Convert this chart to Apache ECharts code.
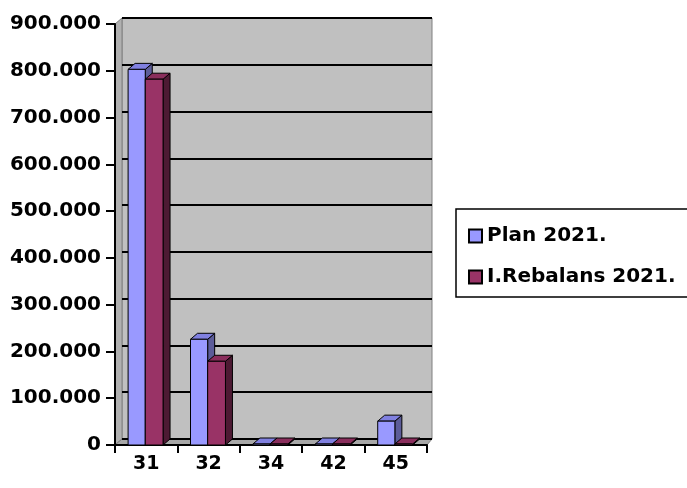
<!DOCTYPE html>
<html><head><meta charset="utf-8">
<script src="https://cdn.jsdelivr.net/npm/echarts@6/dist/echarts.min.js"></script>
<style>html,body{margin:0;padding:0;background:#fff}#c{width:687px;height:488px}</style>
</head><body><div id="c"></div>
<script>
const categories = ['31', '32', '34', '42', '45'];
const seriesNames = ['Plan 2021.', 'I.Rebalans 2021.'];
const plan2021 = [803000, 226000, 1500, 1000, 51000];
const rebalans2021 = [782000, 179000, 1500, 300, 500];
const yTicks = [0, 100000, 200000, 300000, 400000, 500000, 600000, 700000, 800000, 900000];

const FONT = 'DejaVu Sans';
const colors = [
  {front: '#9999ff', top: '#8080e0', side: '#5c5c99'},
  {front: '#993366', top: '#8a2e5c', side: '#4d1a33'}
];
const DX = 7, DY = -6;

function fmt(v) {
  if (v === 0) return '0';
  return String(v).replace(/\B(?=(\d{3})+(?!\d))/g, '.');
}

function makeRender(sIdx) {
  return function (params, api) {
    const i = api.value(0);
    const v = api.value(1);
    const top = api.coord([i, v]);
    const base = api.coord([i, 0]);
    const bw = api.size([1, 0])[0];
    const cx = top[0];
    let x0, w;
    if (sIdx === 0) { x0 = cx - 0.29 * bw; w = 0.275 * bw; }
    else { x0 = cx - 0.015 * bw; w = 0.285 * bw; }
    const x1 = x0 + w;
    const yT = Math.min(top[1], base[1] - 1);
    const yB = base[1];
    const c = colors[sIdx];
    const st = {stroke: '#000', lineWidth: 1};
    return {
      type: 'group',
      children: [
        {type: 'polygon', shape: {points: [[x1, yT], [x1 + DX, yT + DY], [x1 + DX, yB + DY], [x1, yB]]},
         style: Object.assign({fill: c.side}, st)},
        {type: 'polygon', shape: {points: [[x0, yT], [x0 + DX, yT + DY], [x1 + DX, yT + DY], [x1, yT]]},
         style: Object.assign({fill: c.top}, st)},
        {type: 'rect', shape: {x: x0, y: yT, width: w, height: yB - yT},
         style: Object.assign({fill: c.front}, st)}
      ]
    };
  };
}

const chart = echarts.init(document.getElementById('c'));
const yMax = yTicks[yTicks.length - 1];
const yInt = yTicks[1] - yTicks[0];

chart.setOption({
  animation: false,
  backgroundColor: '#fff',
  grid: [
    {left: 115, top: 24, width: 312, height: 421, containLabel: false},
    {left: 122, top: 18, width: 310, height: 421, show: true, backgroundColor: '#c0c0c0', borderColor: '#808080', borderWidth: 1, z: 0}
  ],
  graphic: [
    {type: 'polygon', z: 0, shape: {points: [[115, 24], [122, 18], [122, 439], [115, 445]]},
     style: {fill: '#b0b0b0', stroke: '#808080', lineWidth: 1}},
    {type: 'polygon', z: 0, shape: {points: [[115, 445], [122, 439], [432, 439], [427, 445]]},
     style: {fill: '#a8a8a8', stroke: '#808080', lineWidth: 1}},
    {type: 'rect', z: 10, shape: {x: 456, y: 209, width: 300, height: 88},
     style: {fill: '#fff', stroke: '#000', lineWidth: 1.5}}
  ],
  legend: {
    data: seriesNames,
    orient: 'vertical',
    left: 463, top: 221,
    itemWidth: 13, itemHeight: 13, itemGap: 21,
    icon: 'rect',
    z: 20,
    textStyle: {fontFamily: FONT, fontWeight: 'bold', fontSize: 20, color: '#000'}
  },
  xAxis: [
    {type: 'category', gridIndex: 0, data: categories,
     axisLine: {lineStyle: {color: '#000', width: 2}},
     axisTick: {show: true, length: 8, lineStyle: {color: '#000', width: 2}},
     axisLabel: {fontFamily: FONT, fontWeight: 'bold', fontSize: 19, color: '#000', margin: 10}},
    {type: 'category', gridIndex: 1, data: categories, show: false}
  ],
  yAxis: [
    {type: 'value', gridIndex: 0, min: 0, max: yMax, interval: yInt,
     axisLine: {show: true, lineStyle: {color: '#000', width: 2}},
     axisTick: {show: true, length: 9, lineStyle: {color: '#000', width: 2}},
     splitLine: {show: false},
     axisLabel: {fontFamily: FONT, fontWeight: 'bold', fontSize: 20, color: '#000', margin: 14, formatter: fmt}},
    {type: 'value', gridIndex: 1, min: 0, max: yMax, interval: yInt,
     axisLine: {show: false}, axisTick: {show: false}, axisLabel: {show: false},
     splitLine: {show: true, lineStyle: {color: '#000', width: 2}}}
  ],
  series: [
    {name: seriesNames[0], type: 'custom', xAxisIndex: 0, yAxisIndex: 0, z: 5,
     itemStyle: {color: colors[0].front, borderColor: '#000', borderWidth: 1},
     renderItem: makeRender(0),
     data: plan2021.map((v, i) => [i, v])},
    {name: seriesNames[1], type: 'custom', xAxisIndex: 0, yAxisIndex: 0, z: 5,
     itemStyle: {color: colors[1].front, borderColor: '#000', borderWidth: 1},
     renderItem: makeRender(1),
     data: rebalans2021.map((v, i) => [i, v])}
  ]
});
</script></body></html>
